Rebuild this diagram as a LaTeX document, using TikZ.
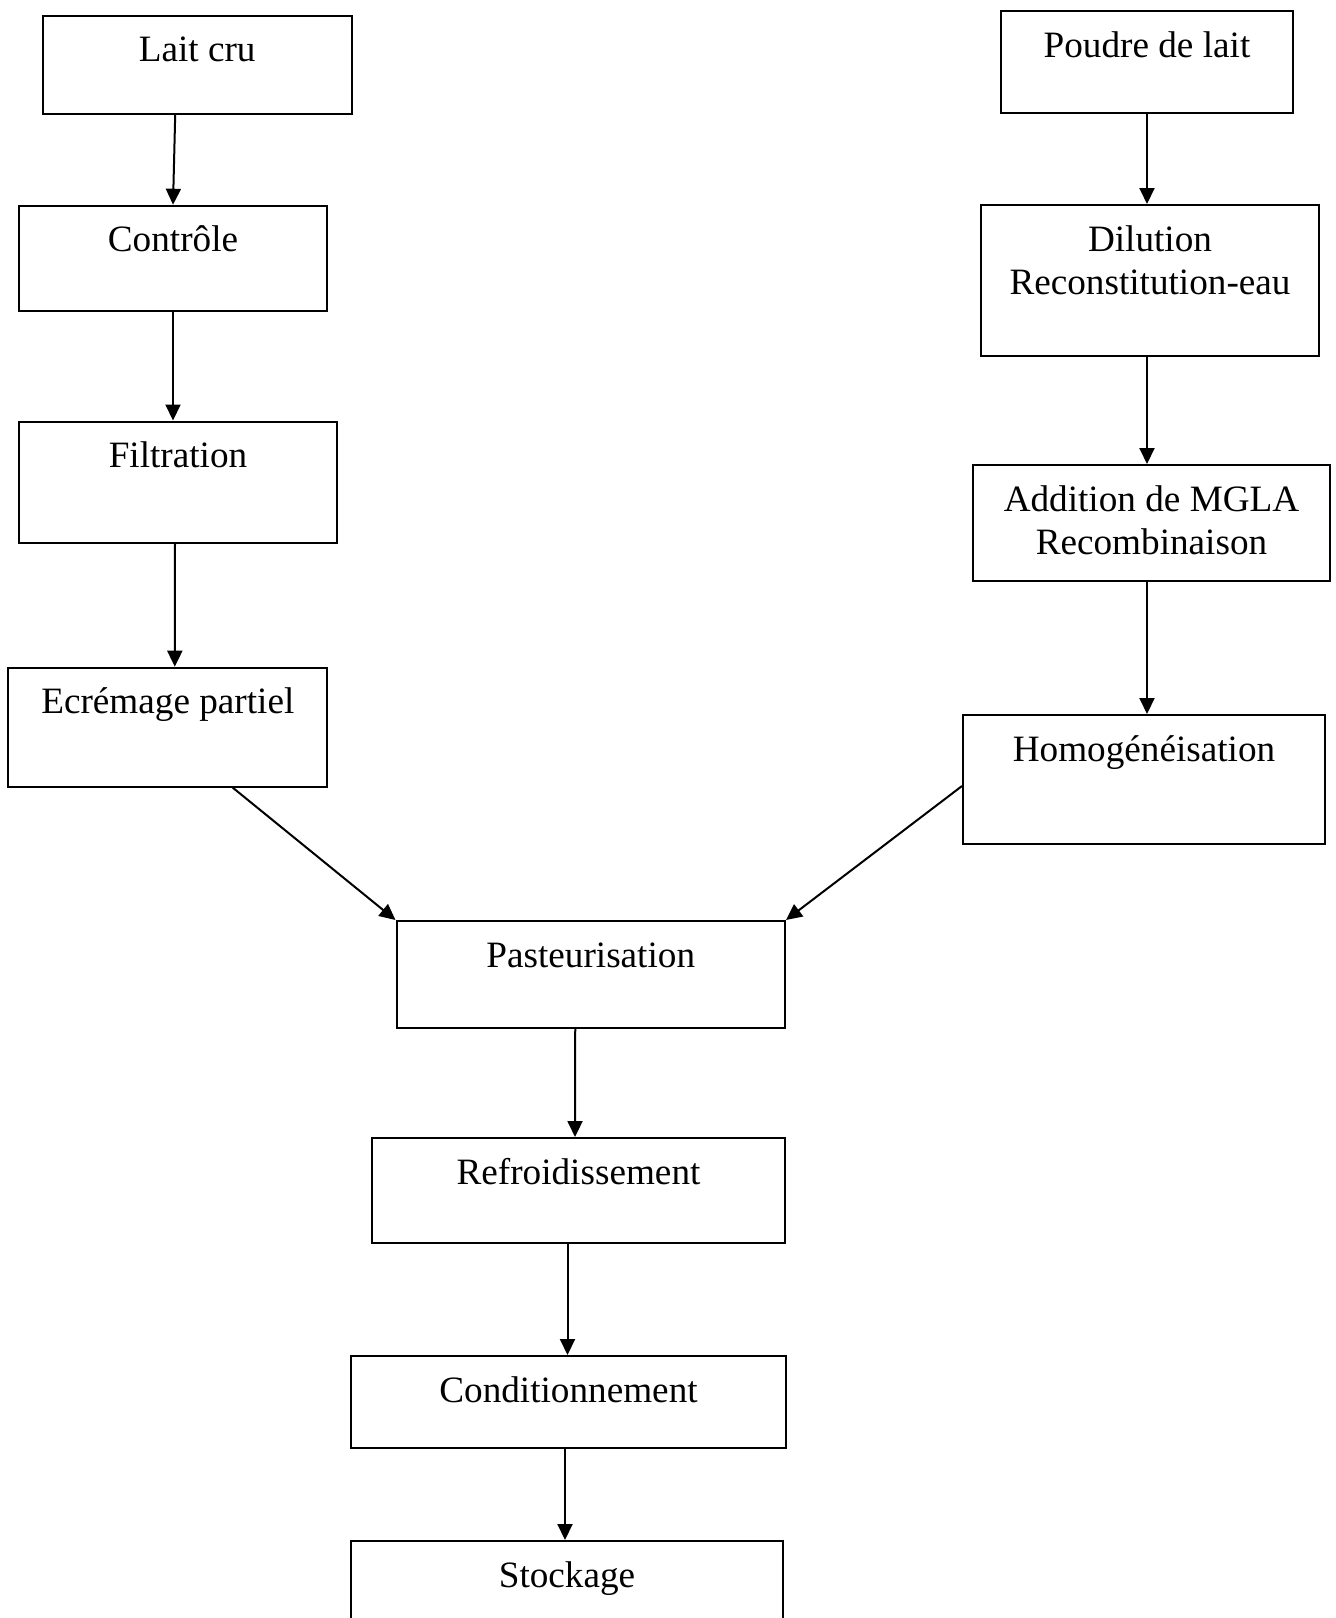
\documentclass[tikz,border=0pt]{standalone}
\usepackage{fontspec}
\setmainfont{Liberation Serif}
\usetikzlibrary{arrows.meta,calc,fit}
\tikzset{
  flowbox/.style={draw=black, line width=1pt, rectangle, inner sep=0pt},
  lbl/.style={font=\fontsize{18.6}{21.5}\selectfont, inner sep=0pt, anchor=base},
  arr/.style={draw=black, line width=1pt, -{Triangle[length=8pt,width=7.5pt]}},
}
% \mkbox name x1 y1 x2 y2 text
\newcommand\mkbox[6]{%
  \coordinate (#1-a) at (#2,#3);
  \coordinate (#1-b) at (#4,#5);
  \node[flowbox, fit=(#1-a)(#1-b)] (#1) {};
  \node[lbl] (#1-t) at ($(#1.north)+(0,47)$) {#6};
}
\newcommand\mksecond[2]{%
  \node[lbl] (#1-t2) at ($(#1.north)+(0,90)$) {#2};
}
\begin{document}
\begin{tikzpicture}[x=0.5pt,y=-0.5pt]
\useasboundingbox (0,0) rectangle (1335,1618);
\clip (0,0) rectangle (1335,1618);
\fill[white] (0,0) rectangle (1335,1618);

\mkbox{lait}{42.7}{15.7}{351.7}{114}{Lait cru}
\mkbox{poudre}{1001}{11}{1293}{113}{Poudre de lait}
\mkbox{controle}{19}{205.7}{327}{310.7}{Contrôle}
\mkbox{dilution}{981}{205}{1319}{356}{Dilution}
\mksecond{dilution}{Reconstitution-eau}
\mkbox{filtration}{19}{421.5}{337}{542.5}{Filtration}
\mkbox{addition}{973}{465}{1330}{581}{Addition de MGLA}
\mksecond{addition}{Recombinaison}
\mkbox{ecremage}{8.3}{667.7}{327.3}{786.7}{Ecrémage partiel}
\mkbox{homog}{963}{715}{1325}{844}{Homogénéisation}
\mkbox{pasteur}{396.5}{921}{785}{1028}{Pasteurisation}
\mkbox{refroid}{372}{1138}{785}{1243}{Refroidissement}
\mkbox{condit}{351}{1356}{786}{1448}{Conditionnement}
\mkbox{stock}{351}{1541}{783}{1660}{Stockage}

\draw[arr] ($(lait.south)+(-22,0)$) -- (controle.north);
\draw[arr] ($(poudre.south)+(0,0)$) -- ($(dilution.north)+(-3,0)$);
\draw[arr] ($(controle.south)+(0,0)$) -- ($(filtration.north)+(-5,0)$);
\draw[arr] ($(dilution.south)+(-3,0)$) -- ($(addition.north)+(-4.5,0)$);
\draw[arr] ($(filtration.south)+(-3,0)$) -- ($(ecremage.north)+(7,0)$);
\draw[arr] ($(addition.south)+(-4.5,0)$) -- ($(homog.north)+(3,0)$);
\draw[arr] ($(ecremage.south)+(65,0)$) -- (pasteur.north west);
\draw[arr] ($(homog.west)+(0,6.5)$) -- (pasteur.north east);
\draw[arr] ($(pasteur.south)+(-15.5,0)$) -- ($(refroid.north)+(-3.5,0)$);
\draw[arr] ($(refroid.south)+(-11,0)$) -- ($(condit.north)+(-1,0)$);
\draw[arr] ($(condit.south)+(-3.5,0)$) -- ($(stock.north)+(-2,0)$);
\end{tikzpicture}
\end{document}
